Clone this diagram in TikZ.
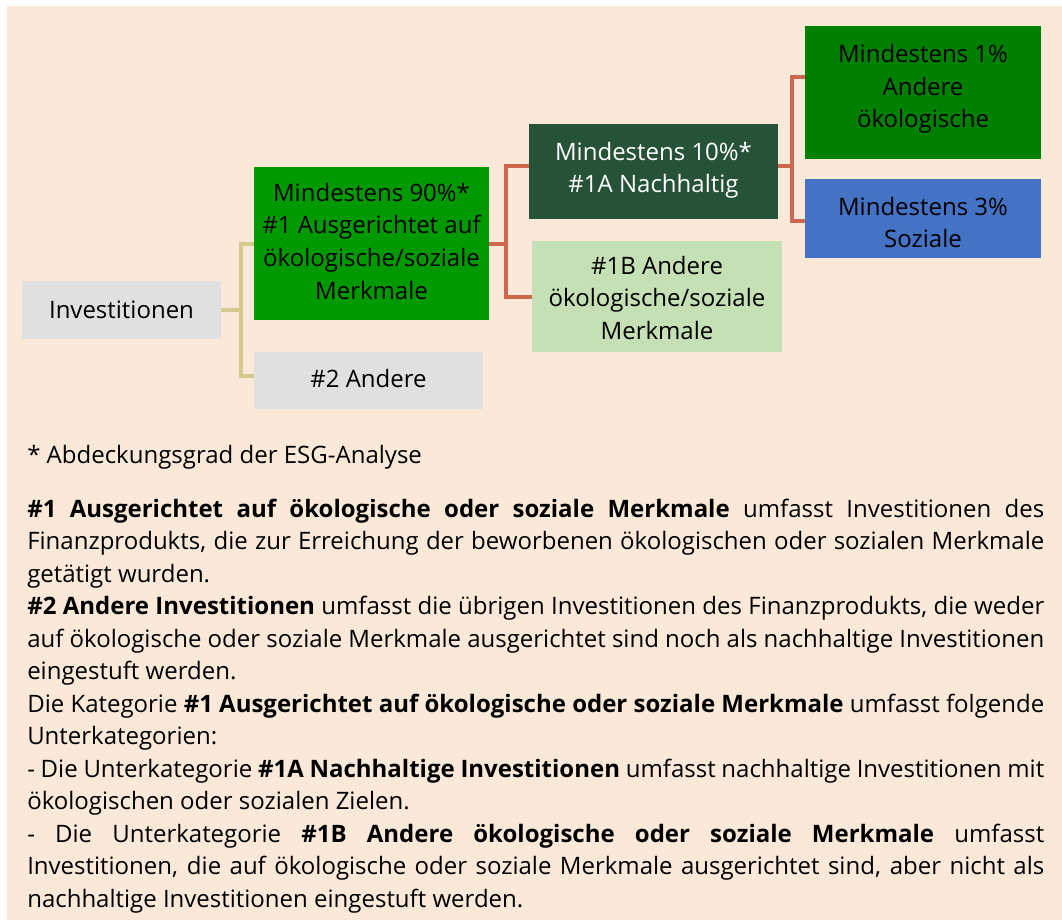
\documentclass[tikz,border=0pt]{standalone}
\usepackage{fontspec}
\setmainfont{Open Sans}
\usetikzlibrary{calc}
\hyphenpenalty=10000
\exhyphenpenalty=10000
\definecolor{bgbeige}{HTML}{FAE9D8}
\definecolor{boxgrey}{HTML}{E0E0E0}
\definecolor{grpgreen}{HTML}{009900}
\definecolor{nachgreen}{HTML}{265238}
\definecolor{paleleaf}{HTML}{C5E0B4}
\definecolor{oekogreen}{HTML}{008000}
\definecolor{sozblue}{HTML}{4472C4}
\definecolor{linkred}{HTML}{CD674E}
\definecolor{linktan}{HTML}{D4CA8E}
\newcommand{\px}{0.75pt}
% box: name, fill, x, y, width, height, text, text shift
\newcommand{\catbox}[8]{\node[catnode, fill=#2, minimum width=#5*\px, minimum height=#6*\px, label={[boxtext, yshift=#8]center:{#7}}] (#1) at (#3,#4) {};}
\tikzset{
  catnode/.style={inner sep=0pt},
  boxtext/.style={inner sep=0pt, align=center, font=\fontsize{18}{24.4}\selectfont},
  bodytext/.style={inner sep=0pt, font=\fontsize{18}{24.4}\selectfont},
  redlink/.style={draw=linkred, line width=3pt},
  tanlink/.style={draw=linktan, line width=3pt}
}
\begin{document}
\begin{tikzpicture}[x=0.75pt, y=-0.75pt]
  % background
  \fill[white] (0,0) rectangle (1062,920);
  \fill[bgbeige] (7,6) rectangle (1062,920);
  \useasboundingbox (0,0) rectangle (1062,920);
  % boxes
  \catbox{inv}{boxgrey}{121.5}{310}{199}{58}{Investitionen}{0.5pt}
  \catbox{grp1}{grpgreen}{371.5}{243.5}{235}{153}{Mindestens 90\%*\\\#1 Ausgerichtet auf\\ökologische/soziale\\Merkmale}{1.7pt}
  \catbox{oth}{boxgrey}{368.5}{380.5}{229}{57}{\#2 Andere}{1.5pt}
  \catbox{nach}{nachgreen}{653.5}{171.5}{249}{95}{\color{white}Mindestens 10\%*\\\color{white}\#1A Nachhaltig}{0.8pt}
  \catbox{andb}{paleleaf}{657}{296.5}{250}{111}{\#1B Andere\\ökologische/soziale\\Merkmale}{-1pt}
  \catbox{oeko}{oekogreen}{923}{92.5}{236}{133}{Mindestens 1\%\\Andere\\ökologische}{2.6pt}
  \catbox{soz}{sozblue}{923}{218.5}{236}{79}{Mindestens 3\%\\Soziale}{-3pt}
  % links
  \draw[tanlink] (inv.east) -- ++(20,0) coordinate (j0) |- (grp1.west);
  \draw[tanlink] (j0) |- ([yshift=3.4pt]oth.west);
  \draw[redlink] (grp1.east) -- ++(17,0) coordinate (j1) |- ([yshift=4pt]nach.west);
  \draw[redlink] (j1) |- (andb.west);
  \draw[redlink] ([yshift=4pt]nach.east) -- ++(14,0) coordinate (j2) |- ([yshift=11.6pt]oeko.west);
  \draw[redlink] (j2) |- ([yshift=-1.9pt]soz.west);
  % notes
  \node[bodytext, anchor=base west] (fn) at (27,463) {* Abdeckungsgrad der ESG-Analyse};
  \node[bodytext, text width=1017*\px, align=justify, anchor=base west] (desc) at (27,517) {%
\textbf{\#1 Ausgerichtet auf ökologische oder soziale Merkmale} umfasst Investitionen des Finanzprodukts, die zur Erreichung der beworbenen ökologischen oder sozialen Merkmale getätigt wurden.\par
\textbf{\#2 Andere Investitionen} umfasst die übrigen Investitionen des Finanzprodukts, die weder auf ökologische oder soziale Merkmale ausgerichtet sind noch als nachhaltige Investitionen eingestuft werden.\par
Die Kategorie \textbf{\#1 Ausgerichtet auf ökologische oder soziale Merkmale} umfasst folgende Unterkategorien:\par
- Die Unterkategorie \textbf{\#1A Nachhaltige Investitionen} umfasst nachhaltige Investitionen mit ökologischen oder sozialen Zielen.\par
{\spaceskip=0.26em plus 0.4em minus 0.16em
- Die Unterkategorie \textbf{\#1B Andere ökologische oder soziale Merkmale} umfasst\linebreak Investitionen, die auf ökologische oder soziale Merkmale ausgerichtet sind, aber nicht als\linebreak nachhaltige Investitionen eingestuft werden.\par}};
\end{tikzpicture}
\end{document}
